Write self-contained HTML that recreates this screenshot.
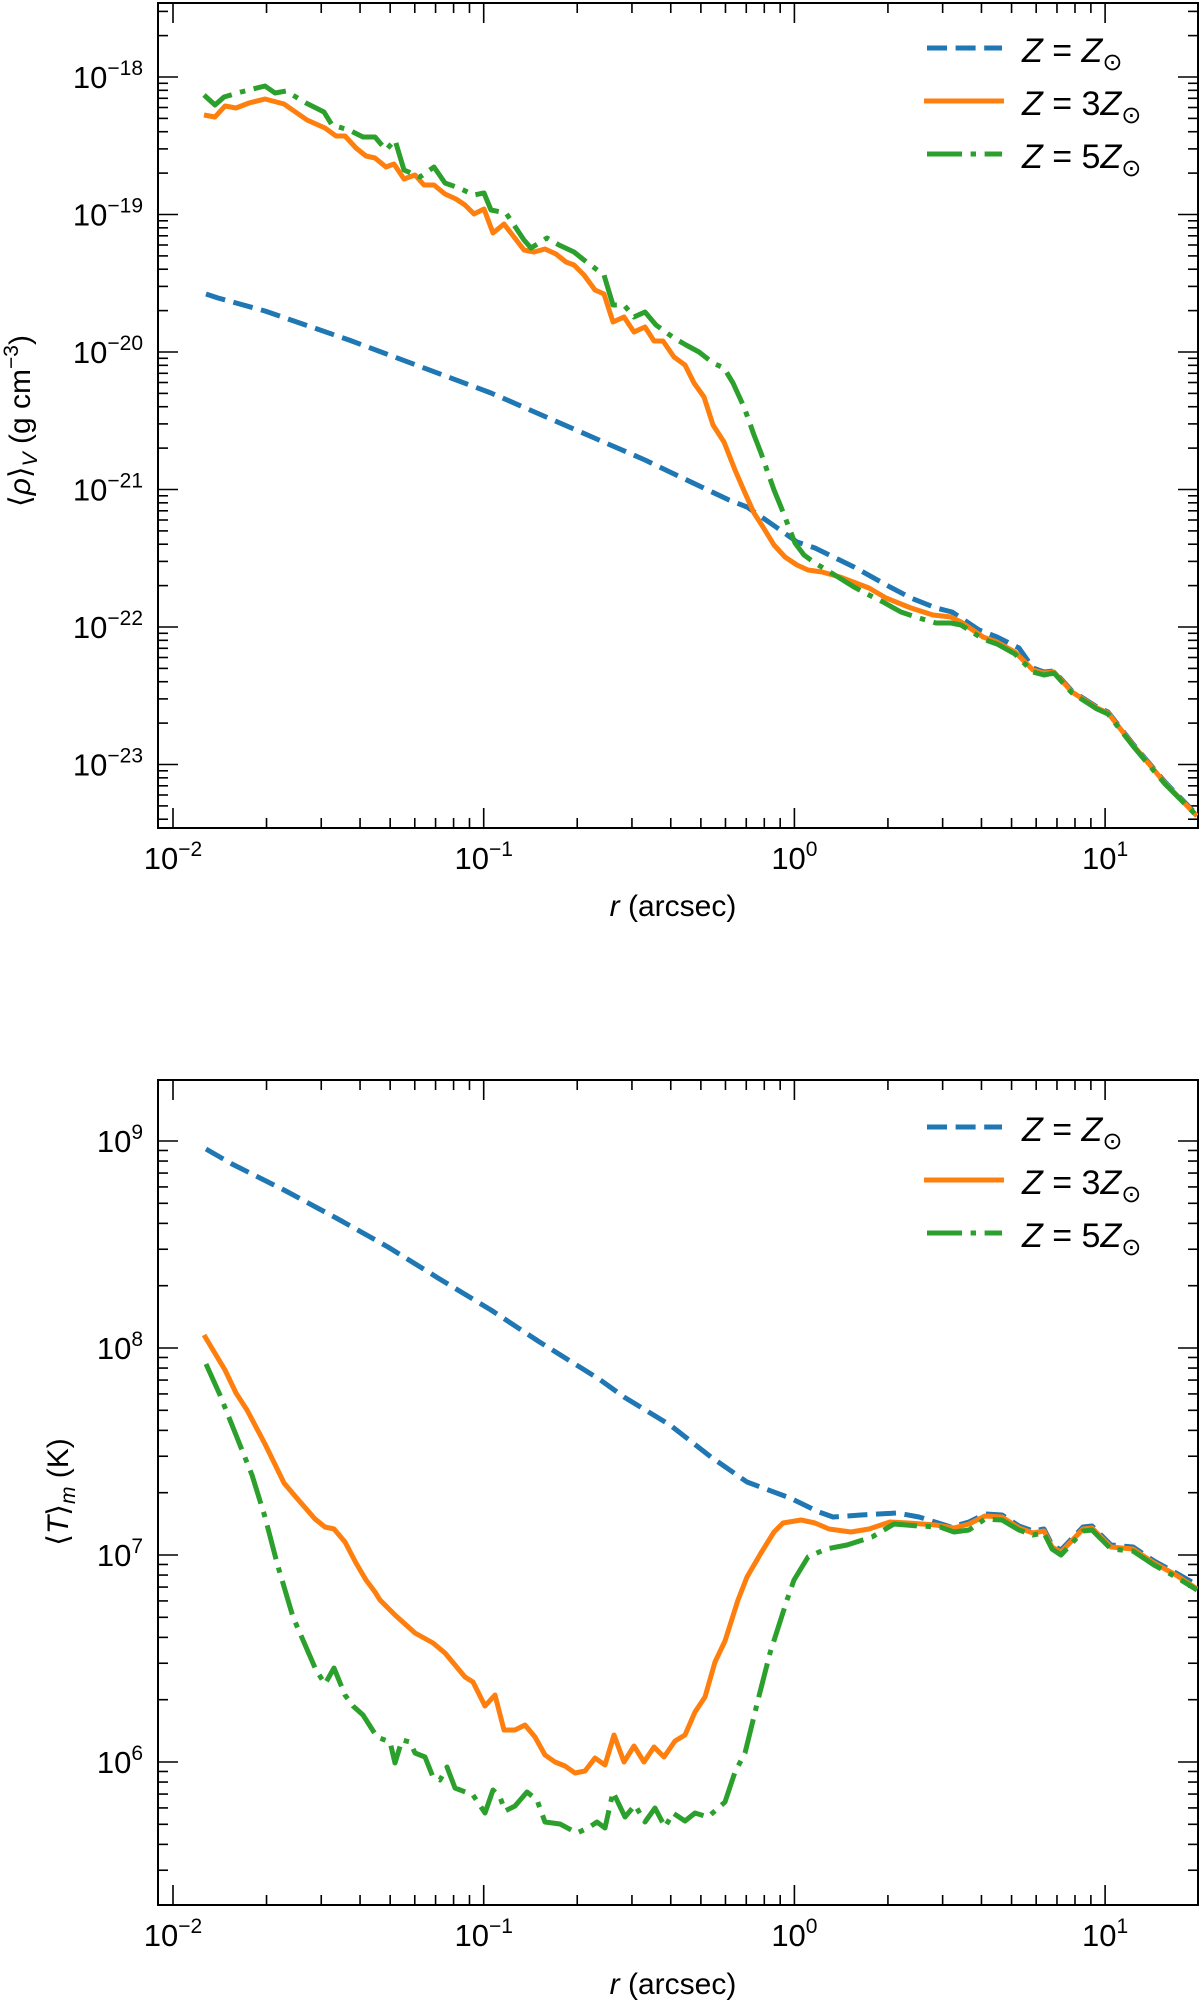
<!DOCTYPE html>
<html><head><meta charset="utf-8"><style>
html,body{margin:0;padding:0;background:#fff;}
svg{display:block;}
text{font-family:"Liberation Sans","DejaVu Sans",sans-serif;fill:#000;}
</style></head><body>
<svg id="s" width="1200" height="2004" viewBox="0 0 1200 2004" xmlns="http://www.w3.org/2000/svg">
<defs>
<clipPath id="c1"><rect x="158" y="3" width="1040" height="825"/></clipPath>
<clipPath id="c2"><rect x="158" y="1080" width="1040" height="825"/></clipPath>
</defs>
<g id="axes"></g>
<g clip-path="url(#c1)" fill="none" stroke-width="5" stroke-linejoin="round">
<polyline stroke="#1f77b4" stroke-dasharray="20 8.6" points="206,294 218,298 265,311 349,340 491,393 599,440 645,460 672,473 729,500 747,507 776,527 797,542 815,548 854,567 890,587 911,598 936,608 952,612 979,630 997,637 1019,648 1033,668 1044,672 1054,671 1072,691 1097,707 1108,712 1133,744 1165,782 1197,815"/>
<polyline stroke="#ff7f0e" points="204,115 215,117 225,106 236,108 249,103 265,99 284,104 307,120 325,128 336,136 345,136 356,148 366,156 375,158 386,167 394,164 404,179 415,175 424,185 434,185 445,194 456,199 465,205 474,214 484,209 493,233 504,224 524,250 534,252 545,249 556,254 566,262 574,265 584,275 595,290 604,294 613,322 624,317 634,332 645,327 654,341 663,341 674,357 685,365 694,383 704,397 713,425 724,442 735,470 745,493 754,513 763,527 774,545 785,557 797,565 808,570 822,572 840,577 869,588 886,598 911,608 933,615 951,617 961,622 983,637 997,642 1015,652 1033,670 1044,673 1054,672 1072,692 1097,708 1108,713 1133,745 1165,783 1197,816"/>
<polyline stroke="#2ca02c" stroke-dasharray="35 8.6 5.4 8.6" points="204,95 215,105 224,97 241,92 265,86 275,93 286,91 306,103 324,112 332,125 349,130 363,137 375,137 386,150 395,140 404,170 420,177 434,167 445,183 459,188 474,195 484,193 491,210 506,213 524,240 531,248 547,238 559,245 574,252 584,260 604,275 613,305 624,305 634,317 645,312 656,325 674,338 686,345 699,352 713,363 724,368 733,383 744,407 754,435 761,453 774,490 781,507 795,543 804,555 815,563 838,577 854,587 869,595 883,602 901,612 919,618 936,623 951,623 961,625 983,639 997,644 1015,654 1033,672 1044,675 1054,673 1072,693 1097,709 1108,714 1133,746 1165,784 1197,816"/>
</g>
<g clip-path="url(#c2)" fill="none" stroke-width="5" stroke-linejoin="round">
<polyline stroke="#1f77b4" stroke-dasharray="20 8.6" points="206,1149 232,1164 284,1190 338,1219 388,1247 438,1278 491,1310 538,1341 599,1379 624,1397 670,1425 711,1457 747,1482 790,1498 819,1512 833,1517 861,1515 897,1513 919,1517 951,1527 969,1522 985,1514 1002,1515 1019,1526 1033,1531 1044,1529 1052,1545 1061,1550 1083,1527 1092,1526 1111,1545 1133,1547 1154,1561 1176,1573 1197,1585"/>
<polyline stroke="#ff7f0e" points="204,1335 225,1370 236,1393 247,1410 265,1444 284,1483 295,1496 315,1519 325,1527 334,1529 345,1542 356,1563 366,1580 375,1592 380,1600 395,1615 415,1633 433,1643 445,1653 465,1677 473,1682 485,1706 495,1695 504,1730 515,1730 525,1725 535,1737 545,1755 555,1762 565,1766 575,1773 585,1771 595,1758 605,1765 614,1735 624,1762 634,1746 644,1762 654,1747 664,1757 675,1741 685,1735 695,1712 705,1697 715,1662 725,1641 738,1600 747,1577 761,1553 774,1532 783,1523 801,1520 815,1523 829,1529 851,1532 869,1529 890,1522 908,1523 936,1525 954,1528 969,1524 985,1516 1002,1517 1019,1528 1033,1533 1044,1531 1052,1547 1061,1552 1083,1529 1092,1528 1111,1547 1133,1549 1154,1563 1176,1575 1197,1589"/>
<polyline stroke="#2ca02c" stroke-dasharray="35 8.6 5.4 8.6" points="206,1364 220,1395 236,1435 252,1475 265,1517 277,1563 293,1617 306,1647 316,1670 325,1684 334,1668 345,1695 353,1706 363,1715 377,1737 390,1742 395,1763 402,1740 410,1742 415,1753 425,1757 433,1777 440,1780 447,1767 455,1788 473,1795 485,1813 493,1790 500,1797 505,1811 515,1806 527,1792 537,1800 545,1822 560,1824 577,1833 588,1828 597,1822 605,1828 613,1792 625,1817 635,1805 645,1822 655,1808 665,1827 673,1813 685,1821 695,1813 708,1817 725,1802 735,1772 745,1753 758,1700 770,1653 787,1600 794,1580 808,1557 826,1549 847,1545 872,1537 894,1524 919,1526 940,1527 954,1532 969,1530 985,1519 1002,1520 1019,1530 1033,1535 1044,1533 1052,1549 1061,1555 1083,1531 1092,1530 1111,1549 1133,1551 1154,1565 1176,1577 1197,1590"/>
</g>
<!-- legends -->
<g stroke-width="5" fill="none">
<line x1="927" y1="48" x2="1002" y2="48" stroke="#1f77b4" stroke-dasharray="20 8.6"/>
<line x1="924" y1="101" x2="1004" y2="101" stroke="#ff7f0e"/>
<line x1="927" y1="154" x2="1002" y2="154" stroke="#2ca02c" stroke-dasharray="35 8.6 5.4 8.6"/>
<line x1="927" y1="1127" x2="1002" y2="1127" stroke="#1f77b4" stroke-dasharray="20 8.6"/>
<line x1="924" y1="1180" x2="1004" y2="1180" stroke="#ff7f0e"/>
<line x1="927" y1="1233" x2="1002" y2="1233" stroke="#2ca02c" stroke-dasharray="35 8.6 5.4 8.6"/>
</g>
<g font-size="34">
<text x="1022" y="62"><tspan font-style="italic">Z</tspan> = <tspan font-style="italic">Z</tspan><tspan font-size="24" dy="8">⊙</tspan></text>
<text x="1022" y="115"><tspan font-style="italic">Z</tspan> = 3<tspan font-style="italic">Z</tspan><tspan font-size="24" dy="8">⊙</tspan></text>
<text x="1022" y="168"><tspan font-style="italic">Z</tspan> = 5<tspan font-style="italic">Z</tspan><tspan font-size="24" dy="8">⊙</tspan></text>
<text x="1022" y="1141"><tspan font-style="italic">Z</tspan> = <tspan font-style="italic">Z</tspan><tspan font-size="24" dy="8">⊙</tspan></text>
<text x="1022" y="1194"><tspan font-style="italic">Z</tspan> = 3<tspan font-style="italic">Z</tspan><tspan font-size="24" dy="8">⊙</tspan></text>
<text x="1022" y="1247"><tspan font-style="italic">Z</tspan> = 5<tspan font-style="italic">Z</tspan><tspan font-size="24" dy="8">⊙</tspan></text>
</g>
<!-- axis labels -->
<text x="673" y="916" font-size="30" text-anchor="middle"><tspan font-style="italic">r</tspan> (arcsec)</text>
<text x="673" y="1994" font-size="30" text-anchor="middle"><tspan font-style="italic">r</tspan> (arcsec)</text>
<text transform="translate(30,421) rotate(-90)" font-size="30" text-anchor="middle">⟨<tspan font-style="italic">ρ</tspan>⟩<tspan font-size="21" dy="7" font-style="italic">V</tspan><tspan dy="-7"> (g cm</tspan><tspan font-size="21" dy="-12">−3</tspan><tspan dy="12">)</tspan></text>
<text transform="translate(68,1492) rotate(-90)" font-size="30" text-anchor="middle">⟨<tspan font-style="italic">T</tspan>⟩<tspan font-size="21" dy="7" font-style="italic">m</tspan><tspan dy="-7"> (K)</tspan></text>
</svg>
<script>
(function(){
var NS="http://www.w3.org/2000/svg",g=document.getElementById("axes");
function el(t,a,txt){var e=document.createElementNS(NS,t);for(var k in a)e.setAttribute(k,a[k]);if(txt!==undefined)e.textContent=txt;g.appendChild(e);return e;}
function ln(x1,y1,x2,y2,w){el("line",{x1:x1,y1:y1,x2:x2,y2:y2,stroke:"#000","stroke-width":w||1.6});}
var L=158,R=1198;
function X(lr){return 173+310.7*(lr+2);}
function label(x,y,base,exp,anchor){
 var t=el("text",{x:x,y:y,"font-size":31,"text-anchor":anchor});
 var a=document.createElementNS(NS,"tspan");a.textContent=base;t.appendChild(a);
 var b=document.createElementNS(NS,"tspan");b.setAttribute("font-size","21");b.setAttribute("dy","-13");b.textContent=exp;t.appendChild(b);
}
function axes(T,B,Yf,emin,emax,ylab){
 el("rect",{x:L,y:T,width:R-L,height:B-T,fill:"none",stroke:"#000","stroke-width":2});
 for(var d=-3;d<=2;d++){for(var k=1;k<10;k++){var lr=d+Math.log10(k);var x=X(lr);if(x<L+1||x>R-1)continue;var len=k==1?20:10;ln(x,B,x,B-len);ln(x,T,x,T+len);
  if(k==1)label(x,B+41,"10",(d<0?"−":"")+Math.abs(d),"middle");}}
 for(var e=emin;e<=emax;e++){for(var k=1;k<10;k++){var y=Yf(e+Math.log10(k));if(y<T+1||y>B-1)continue;var len=k==1?20:10;ln(L,y,L+len,y);ln(R,y,R-len,y);
  if(k==1)label(143,y+11,"10",ylab(e),"end");}}
}
axes(3,828,function(v){return 77+(-18-v)*137.5;},-24,-17,function(e){return "−"+Math.abs(e);});
axes(1080,1905,function(v){return 1141+(9-v)*207;},5,9,function(e){return ""+e;});
})();
</script>
</body></html>
